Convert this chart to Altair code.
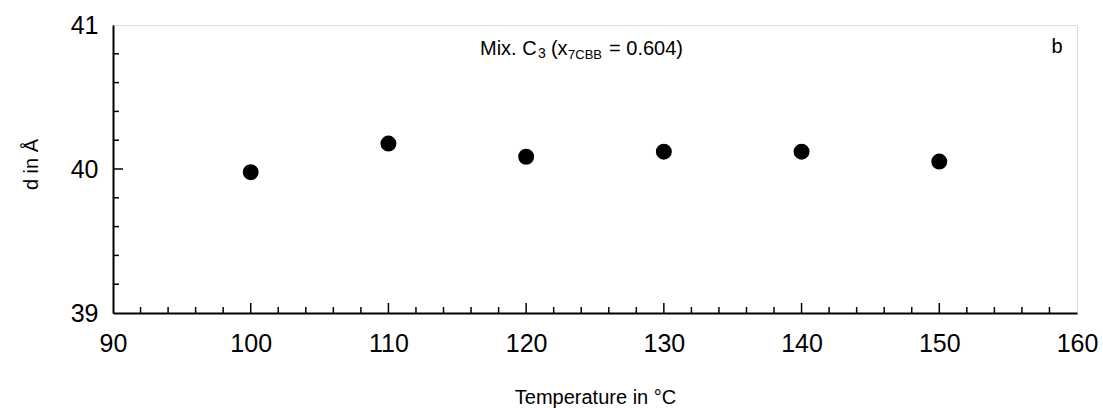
import altair as alt
import pandas as pd

# Data
temperature = [100, 110, 120, 130, 140, 150]
d_spacing = [39.978, 40.177, 40.085, 40.12, 40.12, 40.052]

x_major = [90, 100, 110, 120, 130, 140, 150, 160]
x_minor = [v for v in range(92, 160, 2) if v % 10 != 0]
y_major = [39.0, 40.0, 41.0]
y_minor = [39.2, 39.4, 39.6, 39.8, 40.2, 40.4, 40.6, 40.8]

# annotation pieces (text, x, y, font size)
ann_text = ["Mix. C", "3", "(x", "7CBB", "= 0.604)"]
ann_x = [116.65, 120.86, 121.80, 123.04, 126.02]
ann_y = [40.792, 40.771, 40.792, 40.764, 40.792]
ann_size = [20, 14, 20, 13, 20]

W, H = 964, 288
FONT = "Liberation Sans"

xs = alt.Scale(domain=[90, 160], nice=False, zero=False)
ys = alt.Scale(domain=[39, 41], nice=False, zero=False)

df = pd.DataFrame({"T": temperature, "d": d_spacing})

points = alt.Chart(df).mark_circle(size=254, color="black", opacity=1).encode(
    x=alt.X("T:Q", scale=xs, axis=alt.Axis(
        values=x_major, format=".0f", title="Temperature in °C", grid=False, ticks=False, tickSize=0,
        domainColor="black", domainWidth=2, labelFontSize=25, labelFont=FONT,
        labelColor="black", labelPadding=18, titleFont=FONT, titleFontSize=20,
        titleFontWeight="normal", titleColor="black", titleY=90,
        titleBaseline="alphabetic", labelFlush=False, labelOverlap=False)),
    y=alt.Y("d:Q", scale=ys, axis=alt.Axis(
        values=y_major, format=".0f", title="d in Å", grid=False, ticks=False, tickSize=0,
        domainColor="black", domainWidth=2, labelFontSize=25, labelFont=FONT,
        labelColor="black", labelPadding=15, titleFont=FONT, titleFontSize=20,
        titleFontWeight="normal", titleColor="black", titleX=-76, titleY=139,
        titleAngle=270, titleAlign="center", titleBaseline="alphabetic",
        labelFlush=False, labelOverlap=False)),
)

xmaj = alt.Chart(pd.DataFrame({"xv": x_major[1:-1]})).mark_rule(color="black", strokeWidth=1.5).encode(
    x=alt.X("xv:Q", scale=xs), y=alt.value(H), y2=alt.value(H - 10))
xmin = alt.Chart(pd.DataFrame({"xm": x_minor})).mark_rule(color="black", strokeWidth=1.5).encode(
    x=alt.X("xm:Q", scale=xs), y=alt.value(H), y2=alt.value(H - 6))
ymaj = alt.Chart(pd.DataFrame({"yv": y_major[1:2]})).mark_rule(color="black", strokeWidth=1.5).encode(
    y=alt.Y("yv:Q", scale=ys), x=alt.value(0), x2=alt.value(10))
ymin = alt.Chart(pd.DataFrame({"ym": y_minor})).mark_rule(color="black", strokeWidth=1.5).encode(
    y=alt.Y("ym:Q", scale=ys), x=alt.value(0), x2=alt.value(6))

ann_df = pd.DataFrame({"t": ann_text, "x": ann_x, "y": ann_y, "s": ann_size})
ann = alt.Chart(ann_df).mark_text(align="left", baseline="alphabetic", font=FONT, color="black").encode(
    x=alt.X("x:Q", scale=xs), y=alt.Y("y:Q", scale=ys), text="t:N",
    size=alt.Size("s:Q", scale=None, legend=None))

lab = alt.Chart(pd.DataFrame({"t": ["b"], "x": [158.55], "y": [40.806]})).mark_text(
    align="center", baseline="alphabetic", font=FONT, fontSize=20, color="black").encode(
    x=alt.X("x:Q", scale=xs), y=alt.Y("y:Q", scale=ys), text="t:N")

chart = alt.layer(points, xmaj, xmin, ymaj, ymin, ann, lab).properties(
    width=W, height=H,
    autosize=alt.AutoSizeParams(type="none"),
    padding={"left": 113, "top": 25, "right": 26, "bottom": 95},
).configure_view(stroke="black", strokeWidth=1.5).configure(background="white")

chart.save("out.html", embed_options={"renderer": "svg", "actions": False})
